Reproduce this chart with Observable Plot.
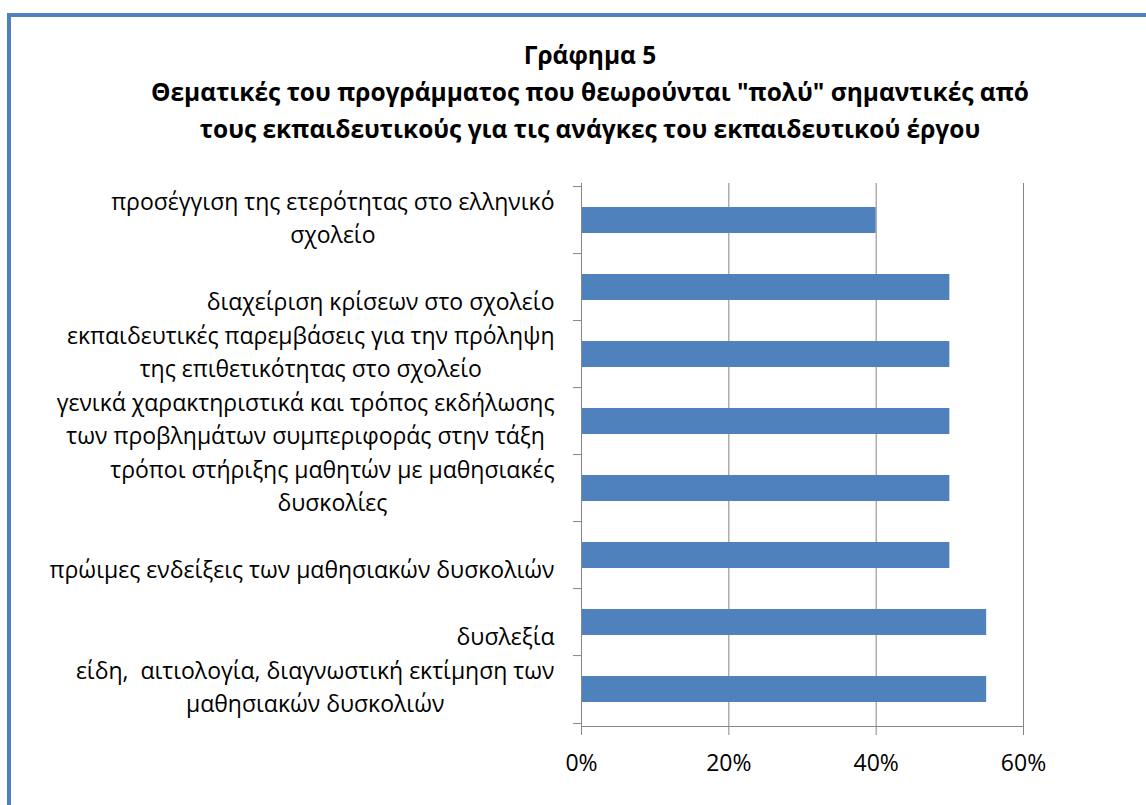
<!DOCTYPE html>
<html>
<head>
<meta charset="utf-8">
<script src="https://cdn.jsdelivr.net/npm/d3@7"></script>
<script src="https://cdn.jsdelivr.net/npm/@observablehq/plot@0.6"></script>
<style>
  html, body { margin: 0; padding: 0; background: #fff; }
  #wrap { position: relative; width: 1146px; height: 805px; overflow: hidden; background: #fff; }
  #frame { position: absolute; left: 7px; top: 13px; width: 1300px; height: 1000px; border: 4px solid #4F81BD; box-sizing: border-box; }
  #title { position: absolute; left: 0; top: 36px; width: 1180px; text-align: center; font-family: "Open Sans", sans-serif; font-weight: bold; font-size: 24.5px; line-height: 37px; color: #000; }
  #chart { position: absolute; left: 0; top: 0; }
</style>
</head>
<body>
<div id="wrap">
  <div id="frame"></div>
  <div id="title"></div>
  <div id="chart"></div>
</div>
<script>
const titleLines = [
  "Γράφημα 5",
  "Θεματικές του προγράμματος που θεωρούνται \"πολύ\" σημαντικές από",
  "τους εκπαιδευτικούς για τις ανάγκες του εκπαιδευτικού έργου"
];
const categories = [
  "προσέγγιση της ετερότητας στο ελληνικό\nσχολείο",
  "\nδιαχείριση κρίσεων στο σχολείο",
  "εκπαιδευτικές παρεμβάσεις για την πρόληψη\nτης επιθετικότητας στο σχολείο",
  "γενικά χαρακτηριστικά και τρόπος εκδήλωσης\nτων προβλημάτων συμπεριφοράς στην τάξη",
  "τρόποι στήριξης μαθητών με μαθησιακές\nδυσκολίες",
  "\nπρώιμες ενδείξεις των μαθησιακών δυσκολιών",
  "\nδυσλεξία",
  "είδη,  αιτιολογία, διαγνωστική εκτίμηση των\nμαθησιακών δυσκολιών"
];
const values = [0.40, 0.50, 0.50, 0.50, 0.50, 0.50, 0.55, 0.55];
const xTicks = [0, 0.2, 0.4, 0.6];

const title = document.getElementById("title");
titleLines.forEach(t => { const d = document.createElement("div"); d.textContent = t; title.appendChild(d); });

const data = categories.map((c, i) => ({category: c, value: values[i]}));
const W = 1146, H = 805;
const marginTop = 183, marginBottom = 79, marginLeft = 581, marginRight = 123;
const step = (H - marginTop - marginBottom) / categories.length;
const grey = "#868686";
const font = "'Open Sans', sans-serif";
const fs = 23;

const chart = Plot.plot({
  width: W, height: H,
  marginTop, marginBottom, marginLeft, marginRight,
  style: {fontFamily: font, fontSize: fs + "px", background: "transparent", color: "#000", overflow: "visible"},
  x: {domain: [0, 0.6], axis: null},
  y: {domain: categories, paddingInner: 0.607, paddingOuter: 0.3035, axis: null},
  marks: [
    Plot.gridX(xTicks.filter(d => d > 0), {stroke: grey, strokeOpacity: 1}),
    Plot.barX(data, {x: "value", y: "category", fill: "#4F81BD"}),
    Plot.ruleX([0], {stroke: grey}),
    Plot.frame({anchor: "bottom", stroke: grey}),
    Plot.axisX(xTicks, {label: null, tickSize: 9, tickPadding: 19, tickFormat: d3.format(".0%"), stroke: grey, fill: "#000", fontSize: fs}),
    Plot.axisY(categories, {label: null, tickSize: 8, dy: -step / 2, stroke: grey, fill: "none"}),
    Plot.axisY(categories.slice(-1), {label: null, tickSize: 8, dy: step / 2, stroke: grey, fill: "none"}),
    Plot.text(categories, {y: d => d, frameAnchor: "left", dx: -27, dy: -5, textAnchor: "end", lineAnchor: "middle", lineHeight: 33 / fs, fontSize: fs, fill: "#000"})
  ]
});
document.getElementById("chart").appendChild(chart);

// center multi-line labels within their block (right edge kept)
chart.querySelectorAll('g[aria-label="text"] text').forEach(t => {
  const w = t.getBBox().width;
  t.setAttribute("text-anchor", "middle");
  t.querySelectorAll("tspan").forEach(s => s.setAttribute("x", -w / 2));
});
</script>
</body>
</html>
